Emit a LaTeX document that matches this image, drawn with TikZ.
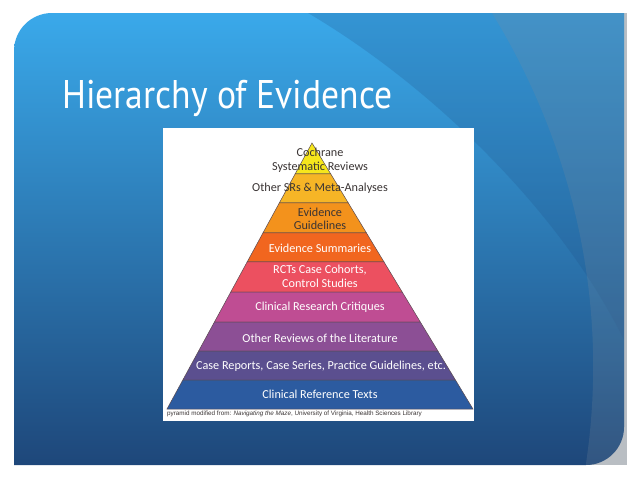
\documentclass[tikz,border=0pt]{standalone}
\usepackage{fontspec}
\setmainfont{Carlito}
\newfontfamily\titlefont[FakeStretch=0.89]{PT Sans}
\newfontfamily\notefont{Liberation Sans}
\usepackage{tikz}
\usepackage{xcolor}
\usetikzlibrary{calc}
\definecolor{slidetop}{HTML}{3AA9EA}
\definecolor{slidemid}{HTML}{2A74B4}
\definecolor{slidebot}{HTML}{1E477A}
\definecolor{bandc}{HTML}{1F4F86}
\definecolor{steel}{HTML}{7C8C9C}
\definecolor{edgegray}{HTML}{B9BEC3}
\definecolor{darktext}{HTML}{3A3434}
\definecolor{tierline}{HTML}{5A4A50}
\definecolor{tierA}{HTML}{F6E61C}
\definecolor{tierB}{HTML}{F6B526}
\definecolor{tierC}{HTML}{F3921C}
\definecolor{tierD}{HTML}{F1661F}
\definecolor{tierE}{HTML}{EC5060}
\definecolor{tierF}{HTML}{BF4D93}
\definecolor{tierG}{HTML}{8C4F95}
\definecolor{tierH}{HTML}{5B4F8F}
\definecolor{tierI}{HTML}{2C5BA0}
\tikzset{
  tiertext/.style={align=center, inner sep=1pt, font=\fontsize{12.2}{13.5}\selectfont, text=white},
  darktier/.style={tiertext, text=darktext}
}
\begin{document}
\begin{tikzpicture}[x=1pt,y=-1pt]
  \useasboundingbox (0,0) rectangle (638,479);
  % slide background
  \fill[edgegray] (420,13) rectangle (627,465);
  \shade[top color=slidetop, middle color=slidemid, bottom color=slidebot]
    (14,465) -- (14,51) .. controls (14,30) and (31,13) .. (52,13) -- (624,13)
    -- (624,427) .. controls (624,448) and (607,465) .. (586,465) -- cycle;
  \begin{scope}
    \clip (14,465) -- (14,51) .. controls (14,30) and (31,13) .. (52,13) -- (624,13)
      -- (624,427) .. controls (624,448) and (607,465) .. (586,465) -- cycle;
    \fill[bandc, opacity=0.22] (308,13) .. controls (430,85) and (560,210) .. (624,340) -- (624,13) -- cycle;
    \fill[steel, opacity=0.22] (492,13) .. controls (570,140) and (612,300) .. (585,470) -- (630,470) -- (630,13) -- cycle;
  \end{scope}
  % title
  \node[anchor=base west, inner sep=0pt, text=white, font=\titlefont\fontsize{40}{46}\selectfont] (title) at (62,108) {Hierarchy of Evidence};
  % picture panel
  \fill[white] (163,128) rectangle (474,421);
  \coordinate (apex) at (312,143);
  \coordinate (bl) at (167,409);
  \coordinate (br) at (473,409);
  \foreach \ya/\yb/\col in {143/174/tierA, 174/203/tierB, 203/233/tierC, 233/262/tierD,
      262/292/tierE, 292/322/tierF, 322/351/tierG, 351/380/tierH, 380/409/tierI} {
    \filldraw[fill=\col, draw=tierline, line width=0.5pt]
      ($(apex)!{(\ya-143)/266}!(bl)$) -- ($(apex)!{(\yb-143)/266}!(bl)$)
      -- ($(apex)!{(\yb-143)/266}!(br)$) -- ($(apex)!{(\ya-143)/266}!(br)$) -- cycle;
  }
  \node[darktier] (cochrane) at (320,160) {Cochrane\\Systematic Reviews};
  \node[darktier] (othersr) at (320,188.5) {Other SRs \& Meta-Analyses};
  \node[darktier] (guide) at (320,219) {Evidence\\Guidelines};
  \node[tiertext] (summ) at (320,248.5) {Evidence Summaries};
  \node[tiertext] (rct) at (320,276.5) {RCTs Case Cohorts,\\Control Studies};
  \node[tiertext] (critique) at (320,307.5) {Clinical Research Critiques};
  \node[tiertext] (reviews) at (320,338.5) {Other Reviews of the Literature};
  \node[tiertext] (cases) at (321,366.5) {Case Reports, Case Series, Practice Guidelines, etc.};
  \node[tiertext] (reftext) at (320,394.5) {Clinical Reference Texts};
  \node[anchor=base west, inner sep=0pt, text=darktext, font=\notefont\fontsize{6.3}{7}\selectfont] (note) at (167,415)
    {pyramid modified from: \textit{Navigating the Maze}, University of Virginia, Health Sciences Library};
\end{tikzpicture}
\end{document}
